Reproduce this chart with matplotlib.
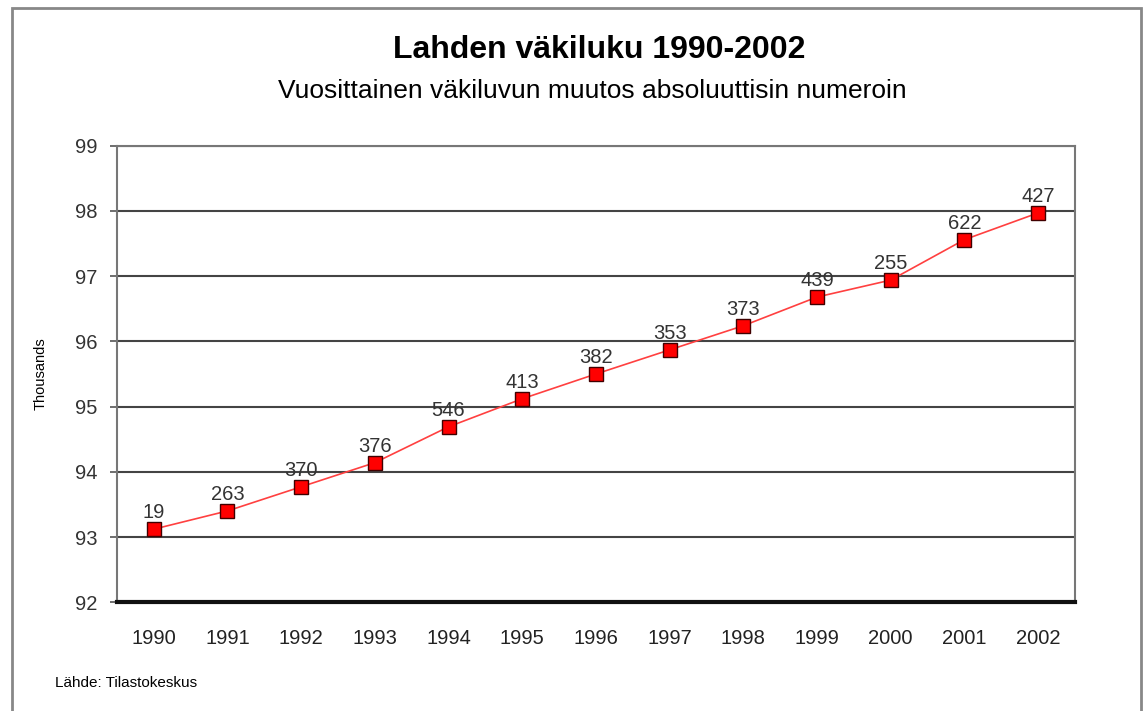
import matplotlib.pyplot as plt
from matplotlib.patches import Rectangle

years = ['1990', '1991', '1992', '1993', '1994', '1995', '1996',
         '1997', '1998', '1999', '2000', '2001', '2002']
population = [93.12, 93.40, 93.77, 94.14, 94.69, 95.12, 95.50,
              95.87, 96.24, 96.68, 96.94, 97.56, 97.97]
change = [19, 263, 370, 376, 546, 413, 382, 353, 373, 439, 255, 622, 427]

plt.rcParams['font.family'] = ['Liberation Sans', 'DejaVu Sans']

fig = plt.figure(figsize=(11.46, 7.11), dpi=100)
ax = fig.add_axes([0.102, 0.153, 0.836, 0.642])

x = list(range(len(years)))
ax.plot(x, population, color='#ff4040', linewidth=1.2, zorder=3)
ax.plot(x, population, linestyle='none', marker='s', markersize=10,
        markerfacecolor='#ff0000', markeredgecolor='#400000',
        markeredgewidth=1, zorder=4)

for xi, yi, c in zip(x, population, change):
    ax.annotate(str(c), (xi, yi), xytext=(0, 5), textcoords='offset points',
                ha='center', va='bottom', fontsize=14.5, color='#333333', zorder=5)

ax.set_xlim(-0.5, len(years) - 0.5)
ax.set_ylim(92, 99)
ax.set_yticks(range(92, 100))
ax.set_xticks(x)
ax.set_xticklabels(years)
ax.tick_params(axis='x', length=0, labelsize=14.5, labelcolor='#222222', pad=19)
ax.tick_params(axis='y', length=5, width=1.2, color='#555555',
               labelsize=14.5, labelcolor='#333333', pad=9)
ax.grid(axis='y', color='#444444', linewidth=1.5, zorder=1)

for side in ['left', 'right', 'top']:
    ax.spines[side].set_color('#777777')
    ax.spines[side].set_linewidth(1.5)
ax.spines['bottom'].set_color('#111111')
ax.spines['bottom'].set_linewidth(3)

ax.set_ylabel('Thousands', fontsize=10.5, labelpad=20)

fig.text(0.523, 0.930, 'Lahden väkiluku 1990-2002', ha='center', va='center',
         fontsize=23, fontweight='bold')
fig.text(0.517, 0.872, 'Vuosittainen väkiluvun muutos absoluuttisin numeroin',
         ha='center', va='center', fontsize=19)
fig.text(0.048, 0.040, 'Lähde: Tilastokeskus', ha='left', va='center', fontsize=11)

fig.patches.append(Rectangle((0.0105, -0.02), 0.985, 1.0085, transform=fig.transFigure,
                             fill=False, edgecolor='#888888', linewidth=2))

fig.savefig('out.png', dpi=100)
